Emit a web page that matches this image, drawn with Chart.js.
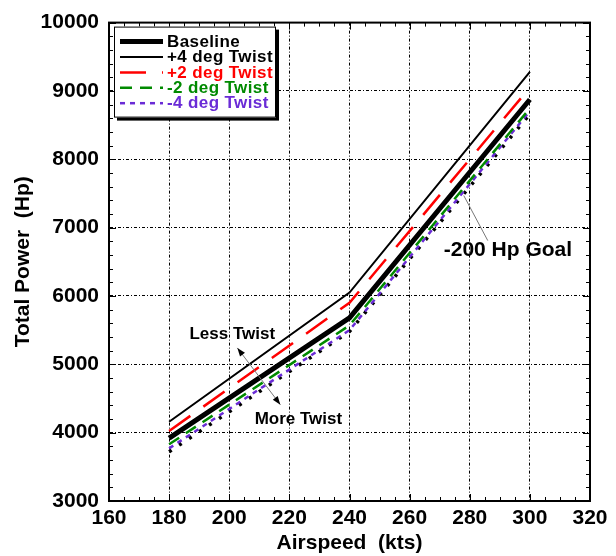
<!DOCTYPE html>
<html>
<head>
<meta charset="utf-8">
<script src="https://cdn.jsdelivr.net/npm/chart.js@4.4.1/dist/chart.umd.min.js"></script>
<style>
html, body { margin: 0; padding: 0; background: #fff; }
</style>
</head>
<body>
<canvas id="chart" width="616" height="556"></canvas>
<script>
// airspeed (kts) where each case was run
let airspeed = [180, 240, 300];

// total power (Hp)
let baseline = [3920, 5680, 8875];
let plus4 = [4160, 6050, 9280];
let plus2 = [4025, 5900, 9050];
let minus2 = [3830, 5570, 8745];
let minus4 = [3770, 5500, 8705];
let goal = [3720, 5480, 8660];

let xTicks = [160, 180, 200, 220, 240, 260, 280, 300, 320];
let yTicks = [3000, 4000, 5000, 6000, 7000, 8000, 9000, 10000];

let FONT = "'Liberation Sans', Arial, Helvetica, sans-serif";

function points(values){
  return airspeed.map(function(x, i){ return {x: x, y: values[i]}; });
}

// LEGEND (drawn inside the plot with a shadow box)
let legendPlugin = {
  id: 'boxLegend',
  afterDraw: function(chart){
    let ctx = chart.ctx;
    let a = chart.chartArea;
    let bx = a.left + 5, by = a.top + 4, bw = 162, bh = 91;
    ctx.save();
    ctx.fillStyle = '#000';
    ctx.fillRect(bx + 3, by + 3, bw, bh);
    ctx.fillStyle = '#fff';
    ctx.fillRect(bx, by, bw, bh);
    ctx.strokeStyle = '#000';
    ctx.lineWidth = 1;
    ctx.strokeRect(bx + 0.5, by + 0.5, bw - 1, bh - 1);

    let row = 0;
    chart.data.datasets.forEach(function(ds){
      if (!ds.inLegend) return;
      let y = by + 15 + row * 15.4;
      ctx.beginPath();
      ctx.lineWidth = ds.borderWidth;
      ctx.strokeStyle = ds.borderColor;
      ctx.setLineDash(ds.borderDash || []);
      ctx.lineCap = 'butt';
      ctx.moveTo(bx + 6, y);
      ctx.lineTo(bx + 49, y);
      ctx.stroke();
      ctx.setLineDash([]);
      ctx.fillStyle = ds.borderColor;
      ctx.font = 'bold 17px ' + FONT;
      ctx.letterSpacing = '0.4px';
      ctx.textBaseline = 'middle';
      ctx.textAlign = 'left';
      ctx.fillText(ds.label, bx + 53, y + 0.5);
      row++;
    });
    ctx.restore();
  }
};

// NOTES AND ARROWS (placed in data units)
let notes = [
  {text: 'Less Twist', x: 201, y: 5440, size: 17},
  {text: 'More Twist', x: 223, y: 4190, size: 17},
  {text: '-200 Hp Goal', x: 292.7, y: 6670, size: 21}
];

function arrowHead(ctx, x1, y1, x2, y2){
  let ang = Math.atan2(y2 - y1, x2 - x1);
  ctx.beginPath();
  ctx.moveTo(x2, y2);
  ctx.lineTo(x2 - 9 * Math.cos(ang - 0.35), y2 - 9 * Math.sin(ang - 0.35));
  ctx.lineTo(x2 - 9 * Math.cos(ang + 0.35), y2 - 9 * Math.sin(ang + 0.35));
  ctx.closePath();
  ctx.fill();
}

let notesPlugin = {
  id: 'notes',
  afterDraw: function(chart){
    let ctx = chart.ctx;
    let xs = chart.scales.x, ys = chart.scales.y;
    ctx.save();
    notes.forEach(function(n){
      ctx.font = 'bold ' + n.size + 'px ' + FONT;
      ctx.fillStyle = '#000';
      ctx.textAlign = 'center';
      ctx.textBaseline = 'middle';
      ctx.fillText(n.text, xs.getPixelForValue(n.x), ys.getPixelForValue(n.y));
    });

    // double arrow between the twist labels
    let ax1 = xs.getPixelForValue(202.7), ay1 = ys.getPixelForValue(5240);
    let ax2 = xs.getPixelForValue(217), ay2 = ys.getPixelForValue(4410);
    ctx.strokeStyle = '#777';
    ctx.lineWidth = 1;
    ctx.beginPath();
    ctx.moveTo(ax1, ay1);
    ctx.lineTo(ax2, ay2);
    ctx.stroke();
    ctx.fillStyle = '#000';
    arrowHead(ctx, ax2, ay2, ax1, ay1);
    arrowHead(ctx, ax1, ay1, ax2, ay2);

    // leader to goal line
    ctx.strokeStyle = '#777';
    ctx.beginPath();
    ctx.moveTo(xs.getPixelForValue(278), ys.getPixelForValue(7470));
    ctx.lineTo(xs.getPixelForValue(286), ys.getPixelForValue(6810));
    ctx.stroke();
    ctx.restore();
  }
};

// FRAME WITH INWARD TICKS
let framePlugin = {
  id: 'frame',
  afterDatasetsDraw: function(chart){
    let ctx = chart.ctx;
    let a = chart.chartArea;
    let xs = chart.scales.x, ys = chart.scales.y;
    ctx.save();
    ctx.strokeStyle = '#000';
    ctx.lineWidth = 1;
    ctx.beginPath();
    for (let v = xTicks[0]; v <= xTicks[xTicks.length - 1]; v += 5){
      let px = Math.round(xs.getPixelForValue(v)) + 0.5;
      let len = (v % 20 === 0) ? 7 : 4;
      ctx.moveTo(px, a.bottom); ctx.lineTo(px, a.bottom - len);
      ctx.moveTo(px, a.top); ctx.lineTo(px, a.top + len);
    }
    for (let v = yTicks[0]; v <= yTicks[yTicks.length - 1]; v += 200){
      let py = Math.round(ys.getPixelForValue(v)) + 0.5;
      let len = (v % 1000 === 0) ? 7 : 4;
      ctx.moveTo(a.left, py); ctx.lineTo(a.left + len, py);
      ctx.moveTo(a.right, py); ctx.lineTo(a.right - len, py);
    }
    ctx.stroke();
    ctx.lineWidth = 2;
    ctx.strokeRect(a.left, a.top, a.right - a.left, a.bottom - a.top);
    ctx.restore();
  }
};

function plain(value){
  return String(value);
}

window.onload = function(){
  let ctx = document.getElementById('chart');

  new Chart(ctx, {
    type: 'line',
    data: {
      datasets: [
        {label: 'Baseline', data: points(baseline), borderColor: '#000', borderWidth: 5, inLegend: true},
        {label: '+4 deg Twist', data: points(plus4), borderColor: '#000', borderWidth: 2, inLegend: true},
        {label: '+2 deg Twist', data: points(plus2), borderColor: '#ff0000', borderWidth: 2.5, borderDash: [26, 16], inLegend: true},
        {label: '-2 deg Twist', data: points(minus2), borderColor: '#008a00', borderWidth: 2.5, borderDash: [12, 8], inLegend: true},
        {label: '-4 deg Twist', data: points(minus4), borderColor: '#6a2bd6', borderWidth: 2.5, borderDash: [5, 5], inLegend: true},
        {label: 'Goal', data: points(goal), borderColor: '#000', borderWidth: 3.5, borderDash: [3, 9]}
      ]
    },
    options: {
      responsive: false,
      animation: false,
      devicePixelRatio: 1,
      layout: {padding: {top: 20, right: 26, left: 0, bottom: 0}},
      elements: {
        point: {radius: 0},
        line: {tension: 0, borderCapStyle: 'butt', borderJoinStyle: 'miter', fill: false}
      },
      plugins: {
        legend: {display: false},
        tooltip: {enabled: false}
      },
      scales: {
        x: {
          type: 'linear',
          min: 160,
          max: 320,
          afterBuildTicks: function(scale){
            scale.ticks = xTicks.map(function(v){ return {value: v}; });
          },
          afterFit: function(scale){ scale.height = 55; },
          grid: {color: '#000', lineWidth: 1, drawTicks: false},
          border: {display: true, color: '#000', width: 2, dash: [3, 2, 1, 2]},
          ticks: {
            color: '#000',
            padding: 5,
            maxRotation: 0,
            callback: plain,
            font: {family: FONT, size: 21, weight: 'bold'}
          },
          title: {
            display: true,
            text: 'Airspeed  (kts)',
            color: '#000',
            padding: {top: 0, bottom: 0},
            font: {family: FONT, size: 21, weight: 'bold'}
          }
        },
        y: {
          type: 'linear',
          min: 3000,
          max: 10000,
          afterBuildTicks: function(scale){
            scale.ticks = yTicks.map(function(v){ return {value: v}; });
          },
          afterFit: function(scale){ scale.width = 109; },
          grid: {color: '#000', lineWidth: 1, drawTicks: false},
          border: {display: true, color: '#000', width: 2, dash: [3, 2, 1, 2]},
          ticks: {
            color: '#000',
            padding: 10,
            callback: plain,
            font: {family: FONT, size: 21, weight: 'bold'}
          },
          title: {
            display: true,
            text: 'Total Power  (Hp)',
            color: '#000',
            padding: {top: 11, bottom: 0},
            font: {family: FONT, size: 21, weight: 'bold'}
          }
        }
      }
    },
    plugins: [framePlugin, legendPlugin, notesPlugin]
  });
};
</script>
</body>
</html>
